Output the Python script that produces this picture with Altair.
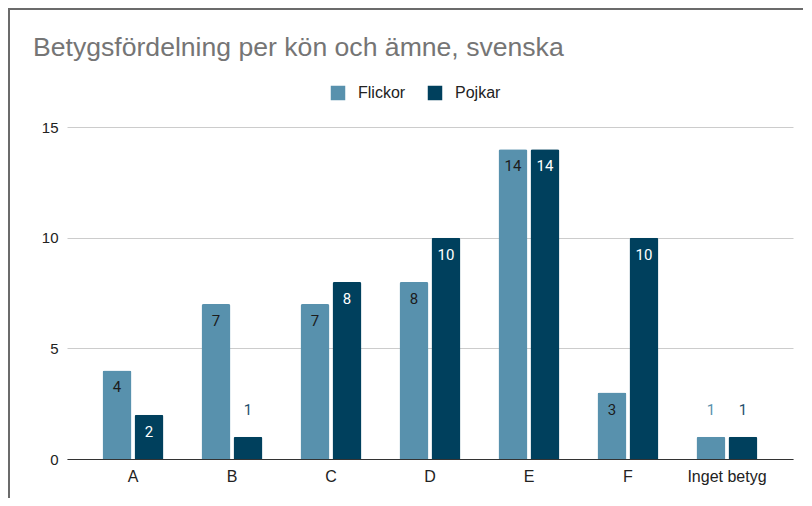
import altair as alt
import pandas as pd

categories = ["A", "B", "C", "D", "E", "F", "Inget betyg"]
flickor = [4, 7, 7, 8, 14, 3, 1]
pojkar = [2, 1, 8, 10, 14, 10, 1]
series = ["Flickor", "Pojkar"]
colors = ["#5891ad", "#00405d"]
inside_text = ["#1c1c1c", "#ffffff"]
outside_text = ["#5891ad", "#1f4f6c"]
y_ticks = [0, 5, 10, 15]

rows = []
for s, vals, tc, oc in zip(series, [flickor, pojkar], inside_text, outside_text):
    for cat, v in zip(categories, vals):
        inside = v >= 2
        rows.append({"betyg": cat, "kon": s, "antal": v,
                     "inside": inside, "tcol": tc if inside else oc})
df = pd.DataFrame(rows)

W, H = 726, 332
LABEL_FONT = "Liberation Sans"

x = alt.X("betyg:N", sort=categories,
          scale=alt.Scale(paddingInner=0.384, paddingOuter=0.359),
          axis=alt.Axis(title=None, labelAngle=0, ticks=False, grid=False,
                        domainColor="#333333", domainWidth=1,
                        labelFont=LABEL_FONT, labelFontSize=16,
                        labelColor="#222222", labelPadding=9))
xo = alt.XOffset("kon:N", sort=series,
                 scale=alt.Scale(paddingInner=0.094, paddingOuter=0))
y = alt.Y("antal:Q", scale=alt.Scale(domain=[0, 15], nice=False),
          axis=alt.Axis(title=None, values=y_ticks, ticks=False, domain=False,
                        gridColor="#cccccc", gridWidth=1,
                        labelFont=LABEL_FONT, labelFontSize=15,
                        labelColor="#222222", labelPadding=9))

base = alt.Chart(df)

bars = base.mark_bar(cornerRadiusTopLeft=2, cornerRadiusTopRight=2).encode(
    x=x, xOffset=xo, y=y,
    color=alt.Color("kon:N", sort=series,
                    scale=alt.Scale(domain=series, range=colors),
                    legend=alt.Legend(title=None, orient="none",
                                      legendX=263, legendY=-42,
                                      direction="horizontal",
                                      symbolType="square", symbolSize=210,
                                      symbolStrokeWidth=0, symbolOpacity=1,
                                      labelFont=LABEL_FONT, labelFontSize=16,
                                      labelColor="#222222", labelOffset=12,
                                      columnPadding=21, padding=0)),
)

labels_in = base.transform_filter("datum.inside").mark_text(
    font="Roboto", fontSize=15, baseline="middle", align="center", dy=17
).encode(x=x, xOffset=xo, y=y, color=alt.Color("tcol:N", scale=None), text="antal:Q")

labels_out = base.transform_filter("!datum.inside").mark_text(
    font="Roboto", fontSize=15, baseline="middle", align="center", dy=-27
).encode(x=x, xOffset=xo, y=y, color=alt.Color("tcol:N", scale=None), text="antal:Q")

border_left = alt.Chart(pd.DataFrame({"k": [0]})).mark_rule(
    color="#6b6b6b", strokeWidth=2, clip=False
).encode(x=alt.value(-58), y=alt.value(-118), y2=alt.value(H + 60))
border_top = alt.Chart(pd.DataFrame({"k": [0]})).mark_rule(
    color="#6b6b6b", strokeWidth=2, clip=False
).encode(x=alt.value(-59), x2=alt.value(W + 40), y=alt.value(-118))

chart = alt.layer(bars, labels_in, labels_out, border_left, border_top).properties(
    width=W, height=H,
    title=alt.Title("Betygsfördelning per kön och ämne, svenska",
                    anchor="start", font=LABEL_FONT, fontSize=26.6,
                    fontWeight="normal", color="#757575", dx=26,
                    baseline="alphabetic", offset=0, dy=75),
    autosize=alt.AutoSizeParams(type="none"),
    padding={"left": 59, "top": 119, "right": 10, "bottom": 39},
).configure(background="white").configure_view(stroke=None)

chart.save("out.html", embed_options={"renderer": "svg", "actions": False})
